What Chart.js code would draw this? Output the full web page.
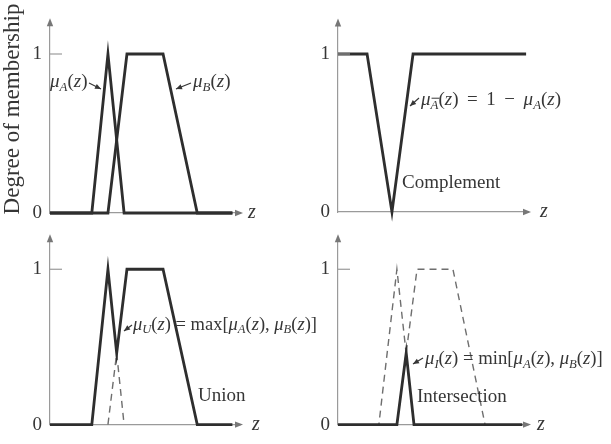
<!DOCTYPE html>
<html><head><meta charset="utf-8">
<script src="https://cdn.jsdelivr.net/npm/chart.js@4"></script>
<style>
html,body{margin:0;padding:0;background:#fff}
body{width:611px;height:444px;overflow:hidden;position:relative}
canvas{display:block;position:absolute;left:0;top:0}
</style></head><body>
<canvas id="c1" width="611" height="444"></canvas>
<canvas id="c2" width="611" height="444"></canvas>
<canvas id="c3" width="611" height="444"></canvas>
<canvas id="c4" width="611" height="444"></canvas>
<script>
// ---- data (z in arbitrary units, membership 0..1) ----
const yTicks = [0, 1];
const yTickLabels = ['0', '1'];

// panel 1: fuzzy sets A and B
const zA1 = [0, 2.2, 3.05, 3.9, 9.6];
const muA1 = [0, 0, 1, 0, 0];
const zB1 = [0, 3.05, 4.05, 5.95, 7.75, 9.6];
const muB1 = [0, 0, 1, 1, 0, 0];

// panel 2: complement of A
const zC = [0, 1.53, 2.84, 3.95, 9.9];
const muC = [1, 1, 0, 1, 1];

// panel 3: union
const zU = [0, 2.2, 3.05, 3.51, 4.05, 5.95, 7.75, 9.6];
const muU = [0, 0, 1, 0.46, 1, 1, 0, 0];
const zUd = [3.05, 3.51, 3.9];
const muUd = [0, 0.46, 0];

// panel 4: intersection (dashed A, B; solid min)
const zA4 = [0, 2.15, 3.1, 4.0, 9.7];
const muA4 = [0, 0, 1, 0, 0];
const zB4 = [0, 3.1, 4.16, 6.05, 7.74, 9.7];
const muB4 = [0, 0, 1, 1, 0, 0];
const zI = [0, 3.1, 3.59, 4.0, 9.7];
const muI = [0, 0, 0.46, 0, 0];

// ---- styles ----
const SERIF = '"Liberation Serif", "DejaVu Serif", serif';
const LINE = '#2e2e2e';
const DASH = '#6e6e6e';
const AXIS = '#9a9a9a';
const TEXT = '#363636';

const pts = (xs, ys) => xs.map((x, i) => ({x, y: ys[i]}));
const solid = (xs, ys) => ({data: pts(xs, ys), borderColor: LINE, borderWidth: 2.8, pointRadius: 0, tension: 0, clip: false, fill: false});
const dashed = (xs, ys) => ({data: pts(xs, ys), borderColor: DASH, borderWidth: 1.4, borderDash: [7, 5], pointRadius: 0, tension: 0, clip: false, fill: false});

// rich-text segments
const I = t => ({t, i: true});
const R = t => ({t});
const S = t => ({t, i: true, sub: true});
const SB = t => ({t, i: true, sub: true, bar: true});

function drawRich(ctx, x, y, segs, size) {
  let cx = x;
  ctx.textBaseline = 'middle';
  ctx.textAlign = 'left';
  for (const s of segs) {
    const fs = s.sub ? size * 0.68 : size;
    ctx.font = (s.i ? 'italic ' : '') + fs + 'px ' + SERIF;
    const dy = s.sub ? size * 0.28 : 0;
    ctx.fillText(s.t, cx, y + dy);
    const w = ctx.measureText(s.t).width;
    if (s.bar) {
      ctx.save();
      ctx.strokeStyle = TEXT; ctx.lineWidth = 1;
      ctx.beginPath();
      ctx.moveTo(cx + 1, y + dy - fs * 0.55);
      ctx.lineTo(cx + w + 1, y + dy - fs * 0.55);
      ctx.stroke();
      ctx.restore();
    }
    cx += w;
  }
}

function leader(ctx, x1, y1, x2, y2) {
  ctx.save();
  ctx.strokeStyle = TEXT; ctx.fillStyle = TEXT; ctx.lineWidth = 1.2;
  ctx.beginPath(); ctx.moveTo(x1, y1); ctx.lineTo(x2, y2); ctx.stroke();
  const a = Math.atan2(y2 - y1, x2 - x1), L = 6, W = 2.6;
  ctx.beginPath();
  ctx.moveTo(x2, y2);
  ctx.lineTo(x2 - L * Math.cos(a) + W * Math.sin(a), y2 - L * Math.sin(a) - W * Math.cos(a));
  ctx.lineTo(x2 - L * Math.cos(a) - W * Math.sin(a), y2 - L * Math.sin(a) + W * Math.cos(a));
  ctx.closePath(); ctx.fill();
  ctx.restore();
}

const deco = {
  id: 'deco',
  afterDraw(chart, args, o) {
    const ctx = chart.ctx, ca = chart.chartArea;
    const ys = chart.scales.y;
    ctx.save();
    // axis arrows
    ctx.fillStyle = '#777';
    ctx.beginPath();
    ctx.moveTo(ca.right + 3, ca.bottom);
    ctx.lineTo(ca.right - 5, ca.bottom - 3.2);
    ctx.lineTo(ca.right - 5, ca.bottom + 3.2);
    ctx.closePath(); ctx.fill();
    ctx.beginPath();
    ctx.moveTo(ca.left, ca.top - 4);
    ctx.lineTo(ca.left - 3.2, ca.top + 4);
    ctx.lineTo(ca.left + 3.2, ca.top + 4);
    ctx.closePath(); ctx.fill();
    // inner tick at y = 1
    ctx.strokeStyle = AXIS; ctx.lineWidth = 1.2;
    const y1 = ys.getPixelForValue(1);
    ctx.beginPath(); ctx.moveTo(ca.left, y1); ctx.lineTo(ca.left + 12, y1); ctx.stroke();
    ctx.fillStyle = TEXT;
    // vertical axis title
    if (o.title) {
      ctx.save();
      ctx.translate(o.title.x, o.title.y);
      ctx.rotate(-Math.PI / 2);
      ctx.font = o.title.size + 'px ' + SERIF;
      ctx.textAlign = 'center'; ctx.textBaseline = 'middle';
      ctx.fillText(o.title.text, 0, 0);
      ctx.restore();
    }
    // z label
    drawRich(ctx, o.zx, ca.bottom, [I('z')], 20);
    // annotations
    for (const a of o.texts) drawRich(ctx, a.x, a.y, a.segs, a.size || 19);
    for (const l of o.leaders) leader(ctx, l[0], l[1], l[2], l[3]);
    ctx.restore();
  }
};

function makeChart(id, datasets, pad, yWidth, decoOpts) {
  return new Chart(document.getElementById(id), {
    type: 'line',
    data: {datasets},
    options: {
      responsive: false, animation: false, devicePixelRatio: 1,
      layout: {padding: pad},
      plugins: {legend: {display: false}, tooltip: {enabled: false}, deco: decoOpts},
      scales: {
        x: {
          type: 'linear', min: 0, max: 10,
          ticks: {display: false}, grid: {display: false, drawTicks: false},
          border: {display: true, color: AXIS, width: 1.2},
          afterFit: s => { s.height = 0; }
        },
        y: {
          type: 'linear', min: 0, max: 1.2,
          afterBuildTicks: s => { s.ticks = yTicks.map(v => ({value: v})); },
          ticks: {
            font: {family: SERIF, size: 19}, color: TEXT, padding: 8,
            callback: v => yTickLabels[yTicks.indexOf(v)]
          },
          grid: {display: false, drawTicks: false},
          border: {display: true, color: AXIS, width: 1.2},
          afterFit: s => { s.width = yWidth; }
        }
      }
    },
    plugins: [deco]
  });
}

const SP = ' \u2009';

// panel 1
makeChart('c1', [solid(zA1, muA1), solid(zB1, muB1)],
  {left: 0, top: 22.2, right: 371, bottom: 231}, 50,
  {zx: 248, title: {text: 'Degree of membership', x: 13, y: 109, size: 23},
   texts: [
     {x: 50, y: 82, segs: [I('μ'), S('A'), R('('), I('z'), R(')')]},
     {x: 193, y: 82, segs: [I('μ'), S('B'), R('('), I('z'), R(')')]}
   ], leaders: [[89, 83, 101, 89], [191, 83, 176, 89]]});

// panel 2
makeChart('c2', [solid(zC, muC)],
  {left: 300, top: 22.4, right: 83, bottom: 232}, 38,
  {zx: 540, texts: [
     {x: 421, y: 100, segs: [I('μ'), SB('A'), R('('), I('z'), R(')' + SP + '=' + SP + '1' + SP + '−' + SP), I('μ'), S('A'), R('('), I('z'), R(')')]},
     {x: 402, y: 183, segs: [R('Complement')]}
   ], leaders: [[419, 98, 410, 106]]});

// panel 3
makeChart('c3', [solid(zU, muU), dashed(zUd, muUd)],
  {left: 0, top: 238.2, right: 371, bottom: 15}, 50,
  {zx: 252, texts: [
     {x: 133, y: 325, size: 18.5, segs: [I('μ'), S('U'), R('('), I('z'), R(') = max['), I('μ'), S('A'), R('('), I('z'), R('), '), I('μ'), S('B'), R('('), I('z'), R(')]')]},
     {x: 198, y: 396, segs: [R('Union')]}
   ], leaders: [[132, 325, 124, 331]]});

// panel 4
makeChart('c4', [solid(zI, muI), dashed(zA4, muA4), dashed(zB4, muB4)],
  {left: 300, top: 238.2, right: 83, bottom: 15}, 38,
  {zx: 537, texts: [
     {x: 425, y: 359, size: 18.7, segs: [I('μ'), S('I'), R('('), I('z'), R(') = min['), I('μ'), S('A'), R('('), I('z'), R('), '), I('μ'), S('B'), R('('), I('z'), R(')]')]},
     {x: 417, y: 397, segs: [R('Intersection')]}
   ], leaders: [[423, 358, 413, 364]]});
</script>
</body></html>
